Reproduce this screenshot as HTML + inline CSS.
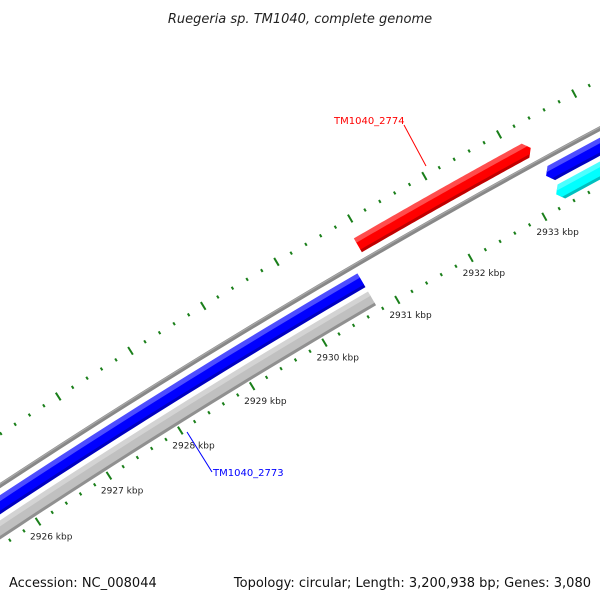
<!DOCTYPE html>
<html><head><meta charset="utf-8"><style>
html,body{margin:0;padding:0;background:#fff;width:600px;height:600px;overflow:hidden}
svg text{font-family:"DejaVu Sans","Liberation Sans",sans-serif}
</style></head><body>
<svg id="chart" width="600" height="600" viewBox="0 0 600 600" xmlns="http://www.w3.org/2000/svg">
<defs><clipPath id="clip"><rect x="0" y="30" width="600" height="538"/></clipPath></defs>
<text x="300" y="23" text-anchor="middle" font-size="13" font-style="italic" fill="#222">Ruegeria sp. TM1040, complete genome</text>
<g id="plot" clip-path="url(#clip)"></g>
<text x="9" y="587" font-size="13" fill="#111">Accession: NC_008044</text>
<text x="591" y="587" text-anchor="end" font-size="13" fill="#111">Topology: circular; Length: 3,200,938 bp; Genes: 3,080</text>
</svg>
<script>
// data
const majorTicks = [2920,2921,2922,2923,2924,2925,2926,2927,2928,2929,2930,2931,2932,2933,2934,2935,2936,2937];
const tickLabels = ["2920 kbp","2921 kbp","2922 kbp","2923 kbp","2924 kbp","2925 kbp","2926 kbp","2927 kbp","2928 kbp","2929 kbp","2930 kbp","2931 kbp","2932 kbp","2933 kbp","2934 kbp","2935 kbp","2936 kbp","2937 kbp"];
const geneNames = ["TM1040_2773","gene-gray","TM1040_2774","gene-blue-right","gene-cyan-right"];
const geneStarts = [2920.0, 2920.0, 2930.92, 2933.25, 2933.25];
const geneEnds = [2930.75, 2930.75, 2933.25, 2940.0, 2940.0];
const geneStrand = [-1, -1, 1, -1, -1];
const geneTrack = [1, 2, 1, 1, 2];
const geneColor = ["#0000ff","#c0c0c0","#ff0000","#0000ff","#00ffff"];

// geometry (axis functions)
const CX=4231, CY=6913;
const R_BACK=7695, R_IN_TICK=7644, R_OUT_TICK=7738;
const DEG_PER_KBP=0.633, ANG0=-122.0, KBP0=2928;
function ang(kbp){return (ANG0+DEG_PER_KBP*(kbp-KBP0))*Math.PI/180;}
function pt(kbp,r){const a=ang(kbp);return [CX+r*Math.cos(a),CY+r*Math.sin(a)];}
function trackR(strand,track){ // [inner, outer]
  if(strand>0){const o=7703+(track-1)*21;return [o,o+16];}
  const o=7687-(track-1)*21;return [o-16,o];
}
const NS="http://www.w3.org/2000/svg";
const plot=document.getElementById('plot');
function mk(tag,attrs){const e=document.createElementNS(NS,tag);for(const k in attrs)e.setAttribute(k,attrs[k]);return e;}
function arcPts(k0,k1,r,n){const a=[];for(let i=0;i<=n;i++){a.push(pt(k0+(k1-k0)*i/n,r));}return a;}
function ps(a){return a.map(p=>p[0].toFixed(2)+','+p[1].toFixed(2)).join(' ');}

// backbone
const bb=mk('polyline',{points:ps(arcPts(2919,2941,R_BACK,80)),fill:'none',stroke:'#888','stroke-width':4.5});


plot.appendChild(bb);
const bb2=mk('polyline',{points:ps(arcPts(2919,2941,R_BACK+1.2,80)),fill:'none',stroke:'#a8a8a8','stroke-width':1.2});


plot.appendChild(bb2);

// ticks
for(let i=0;i<majorTicks.length;i++){
  const k=majorTicks[i];
  for(let j=0;j<5;j++){
    const kk=k+j*0.2, len=j===0?4.5:1.6;
    [R_IN_TICK,R_OUT_TICK].forEach((r,ri)=>{
      const p0=pt(kk,r-len),p1=pt(kk,r+len);
      const t=mk('line',{x1:p0[0],y1:p0[1],x2:p1[0],y2:p1[1],stroke:'#1a7f1a','stroke-width':2});
      
      
      plot.appendChild(t);
    });
  }
  const p=pt(k,R_IN_TICK);
  const lb=mk('text',{x:p[0]-8,y:p[1]+18,'font-size':9,fill:'#222'});
  lb.textContent=tickLabels[i];
  
  
  plot.appendChild(lb);
}

// genes
function shade(hex,f){const n=parseInt(hex.slice(1),16);let r=n>>16,g=(n>>8)&255,b=n&255;
  const m=c=>f>0?Math.round(c+(255-c)*f):Math.round(c*(1+f));return 'rgb('+m(r)+','+m(g)+','+m(b)+')';}
for(let i=0;i<geneNames.length;i++){
  const [ri,ro]=trackR(geneStrand[i],geneTrack[i]);
  const s=geneStarts[i], e=geneEnds[i], head=0.07;
  const bands=[[ri,ri+4,-0.25],[ri+3,ro-4,0],[ro-5,ro,0.3]];
  const mid=(ri+ro)/2, hw=(ro-ri)/2;
  bands.forEach((b)=>{
    let poly;
    if(geneStrand[i]>0){
      const outer=arcPts(s,e-head,b[1],60), inner=arcPts(e-head,s,b[0],60);
      poly=outer.concat([pt(e-head*(Math.abs(b[1]-mid)/hw),b[1]),pt(e,mid),pt(e-head*(Math.abs(b[0]-mid)/hw),b[0])]).concat(inner);
    } else {
      const outer=arcPts(s+head,e,b[1],60), inner=arcPts(e,s+head,b[0],60);
      poly=[pt(s+head*(Math.abs(b[0]-mid)/hw),b[0]),pt(s,mid),pt(s+head*(Math.abs(b[1]-mid)/hw),b[1])].concat(outer).concat(inner);
    }
    const g=mk('polygon',{points:ps(poly),fill:shade(geneColor[i],b[2])});
    
    
    plot.appendChild(g);
  });
}

// labels
const lab1=mk('line',{x1:404,y1:125,x2:426,y2:166,stroke:'#ff0000','stroke-width':1});


plot.appendChild(lab1);
const t1=mk('text',{x:334,y:124,'font-size':10,fill:'#ff0000'});t1.textContent='TM1040_2774';


plot.appendChild(t1);
const lab2=mk('line',{x1:187,y1:432,x2:212,y2:472,stroke:'#0000ff','stroke-width':1});


plot.appendChild(lab2);
const t2=mk('text',{x:213,y:476,'font-size':10,fill:'#0000ff'});t2.textContent='TM1040_2773';


plot.appendChild(t2);
</script>
</body></html>
